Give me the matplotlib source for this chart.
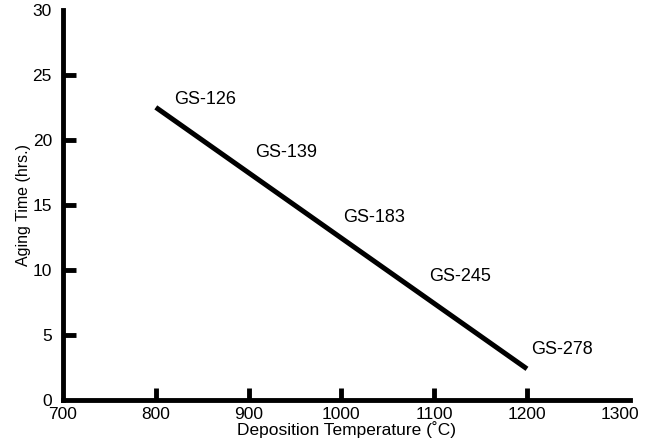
import matplotlib.pyplot as plt

plt.rcParams['font.family'] = ['Liberation Sans', 'DejaVu Sans']

# end points of the trend line
temp = [800, 1200]
aging = [22.5, 2.4]

samples = ['GS-126', 'GS-139', 'GS-183', 'GS-245', 'GS-278']
label_x = [820, 907, 1002, 1095, 1204]
label_y = [23.1, 19.0, 14.0, 9.5, 3.85]

x_ticks = [700, 800, 900, 1000, 1100, 1200, 1300]
y_ticks = [0, 5, 10, 15, 20, 25, 30]

fig = plt.figure(figsize=(6.45, 4.46), dpi=100)
ax = fig.add_axes([0.0977, 0.103, 0.879, 0.875])

ax.plot(temp, aging, color='black', linewidth=3.6, solid_capstyle='butt')

for s, lx, ly in zip(samples, label_x, label_y):
    ax.text(lx, ly, s, fontsize=13, ha='left', va='center')

ax.set_xlim(700, 1311)
ax.set_ylim(0, 30)
ax.set_xticks(x_ticks)
ax.set_yticks(y_ticks)
ax.tick_params(direction='in', length=9, width=3.5, labelsize=12.5)
ax.tick_params(axis='x', pad=5)
ax.tick_params(axis='y', pad=8)

# no tick marks at the ends of the axes, only labels
for axis in [ax.xaxis, ax.yaxis]:
    ticks = axis.get_major_ticks()
    for t in (ticks[0], ticks[-1]):
        t.tick1line.set_visible(False)

for side in ['top', 'right']:
    ax.spines[side].set_visible(False)
for side in ['left', 'bottom']:
    ax.spines[side].set_linewidth(3.5)

ax.set_xlabel('Deposition Temperature (˚C)', fontsize=12.5, labelpad=-1)
ax.set_ylabel('Aging Time (hrs.)', fontsize=11.5, labelpad=1)

fig.savefig('out.png', dpi=100)
